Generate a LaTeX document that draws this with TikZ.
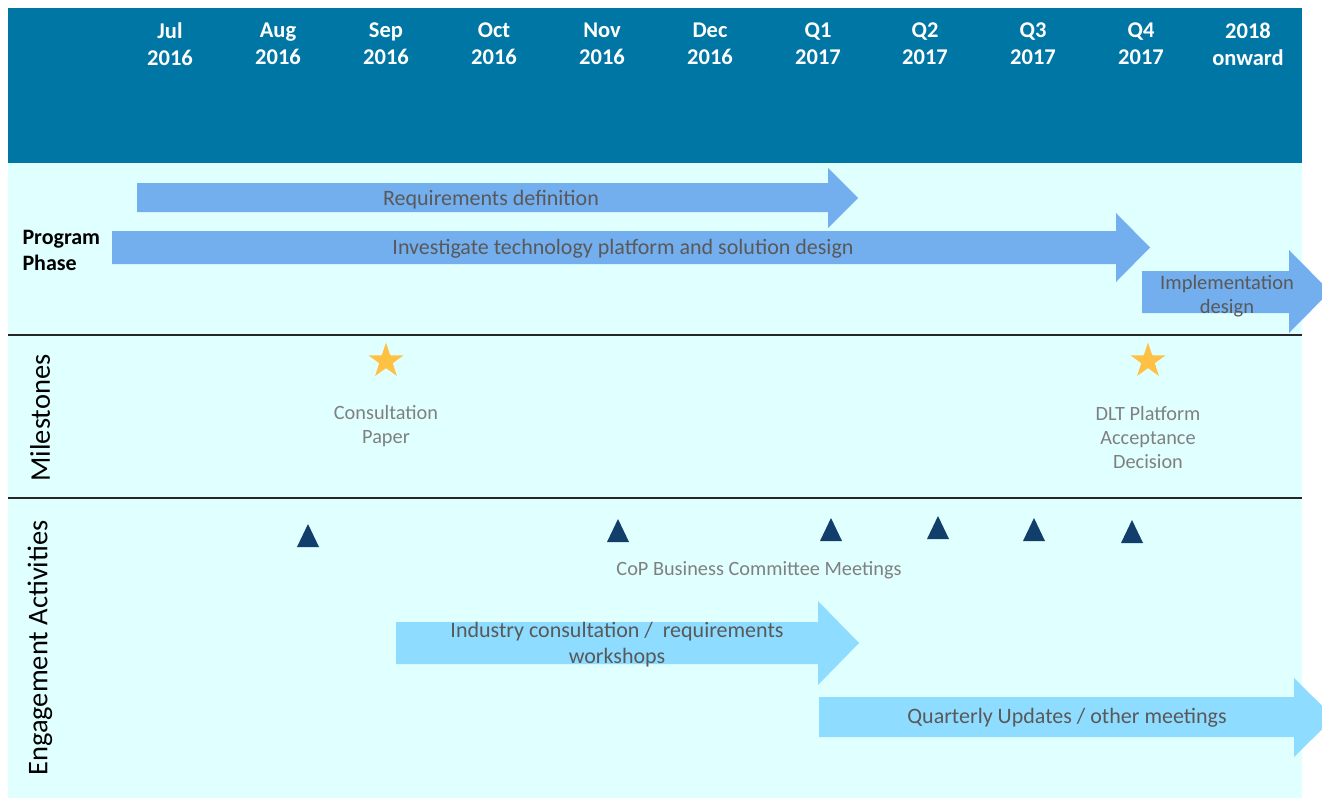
\documentclass[tikz,border=0pt]{standalone}
\usepackage{fontspec}
\setmainfont{Carlito}
\usetikzlibrary{shapes.geometric}
\definecolor{hdr}{HTML}{0076A5}
\definecolor{band}{HTML}{E0FFFF}
\definecolor{arrA}{HTML}{73AFEE}
\definecolor{arrB}{HTML}{8EDCFF}
\definecolor{txtA}{HTML}{595959}
\definecolor{txtG}{HTML}{808080}
\definecolor{starc}{HTML}{FFC143}
\definecolor{tric}{HTML}{123E6B}
\newcommand{\mytri}[2]{\fill[tric] (#1-11,#2) -- (#1+11,#2) -- (#1,#2-23) -- cycle;}
\begin{document}
\begin{tikzpicture}[x=1pt,y=-1pt,
  hdrtxt/.style={text=white,font=\fontsize{22.5}{27}\selectfont\bfseries,align=center},
  arrtxt/.style={text=txtA,font=\fontsize{22}{24}\selectfont,align=center},
  mstxt/.style={text=txtG,font=\fontsize{20.3}{24}\selectfont,align=center},
  sidetxt/.style={text=black,font=\fontsize{28.5}{32}\selectfont,rotate=90},
  starnode/.style={star,star points=5,star point ratio=2.6,fill=starc,minimum size=37pt,inner sep=0pt},
  divider/.style={line width=1.6pt,black!85}]
\useasboundingbox (0,0) rectangle (1322,798);
\clip (0,0) rectangle (1322,798);
\fill[white] (0,0) rectangle (1322,798);
\fill[band] (8,163) rectangle (1302,798);
\fill[hdr] (8,8) rectangle (1302,163);
% header
\node[hdrtxt] (h1) at (170,44) {Jul\\2016};
\node[hdrtxt] (h2) at (278,44) {Aug\\2016};
\node[hdrtxt] (h3) at (386,44) {Sep\\2016};
\node[hdrtxt] (h4) at (494,44) {Oct\\2016};
\node[hdrtxt] (h5) at (602,44) {Nov\\2016};
\node[hdrtxt] (h6) at (710,44) {Dec\\2016};
\node[hdrtxt] (h7) at (818,44) {Q1\\2017};
\node[hdrtxt] (h8) at (925,44) {Q2\\2017};
\node[hdrtxt] (h9) at (1033,44) {Q3\\2017};
\node[hdrtxt] (h10) at (1141,44) {Q4\\2017};
\node[hdrtxt] (h11) at (1248,44) {2018\\onward};
% dividers
\draw[divider] (8,335) -- (1302,335);
\draw[divider] (8,498) -- (1302,498);
% side labels
\node[anchor=west,align=left,font=\fontsize{22}{26}\selectfont\bfseries] (pp) at (19,250) {Program\\Phase};
\node[sidetxt] (ms) at (40,418) {Milestones};
\node[sidetxt] (ea) at (40,648) {Engagement Activities};
% program arrows
\fill[arrA] (137,183) -- (828,183) -- (828,168) -- (858,198) -- (828,228) -- (828,212) -- (137,212) -- cycle;
\node[arrtxt] (a1) at (491,200) {Requirements definition};
\fill[arrA] (112,231) -- (1116,231) -- (1116,213) -- (1150,247.5) -- (1116,282) -- (1116,264) -- (112,264) -- cycle;
\node[arrtxt] (a2) at (623,249) {Investigate technology platform and solution design};
\fill[arrA] (1142,271) -- (1289,271) -- (1289,250) -- (1330,291.5) -- (1289,333) -- (1289,313) -- (1142,313) -- cycle;
\node[arrtxt,font=\fontsize{20.5}{24}\selectfont] (a3) at (1227,296) {Implementation\\design};
% milestones
\node[starnode] (s1) at (386,361) {};
\node[starnode] (s2) at (1148,361) {};
\node[mstxt] (m1) at (386,426) {Consultation\\Paper};
\node[mstxt] (m2) at (1148,438) {DLT Platform\\Acceptance\\Decision};
% engagement
\mytri{308}{547}
\mytri{618}{542}
\mytri{831}{541}
\mytri{938}{539}
\mytri{1034}{541}
\mytri{1132}{543}
\node[mstxt] (cop) at (759,570) {CoP Business Committee Meetings};
\fill[arrB] (396,622) -- (818,622) -- (818,601) -- (859,643) -- (818,685) -- (818,664) -- (396,664) -- cycle;
\node[arrtxt,font=\fontsize{22}{26}\selectfont] (e1) at (617,645) {Industry consultation /\ \ requirements\\workshops};
\fill[arrB] (819,697) -- (1294,697) -- (1294,678) -- (1334,717.5) -- (1294,757) -- (1294,737) -- (819,737) -- cycle;
\node[arrtxt] (e2) at (1067,718) {Quarterly Updates / other meetings};
\end{tikzpicture}
\end{document}
